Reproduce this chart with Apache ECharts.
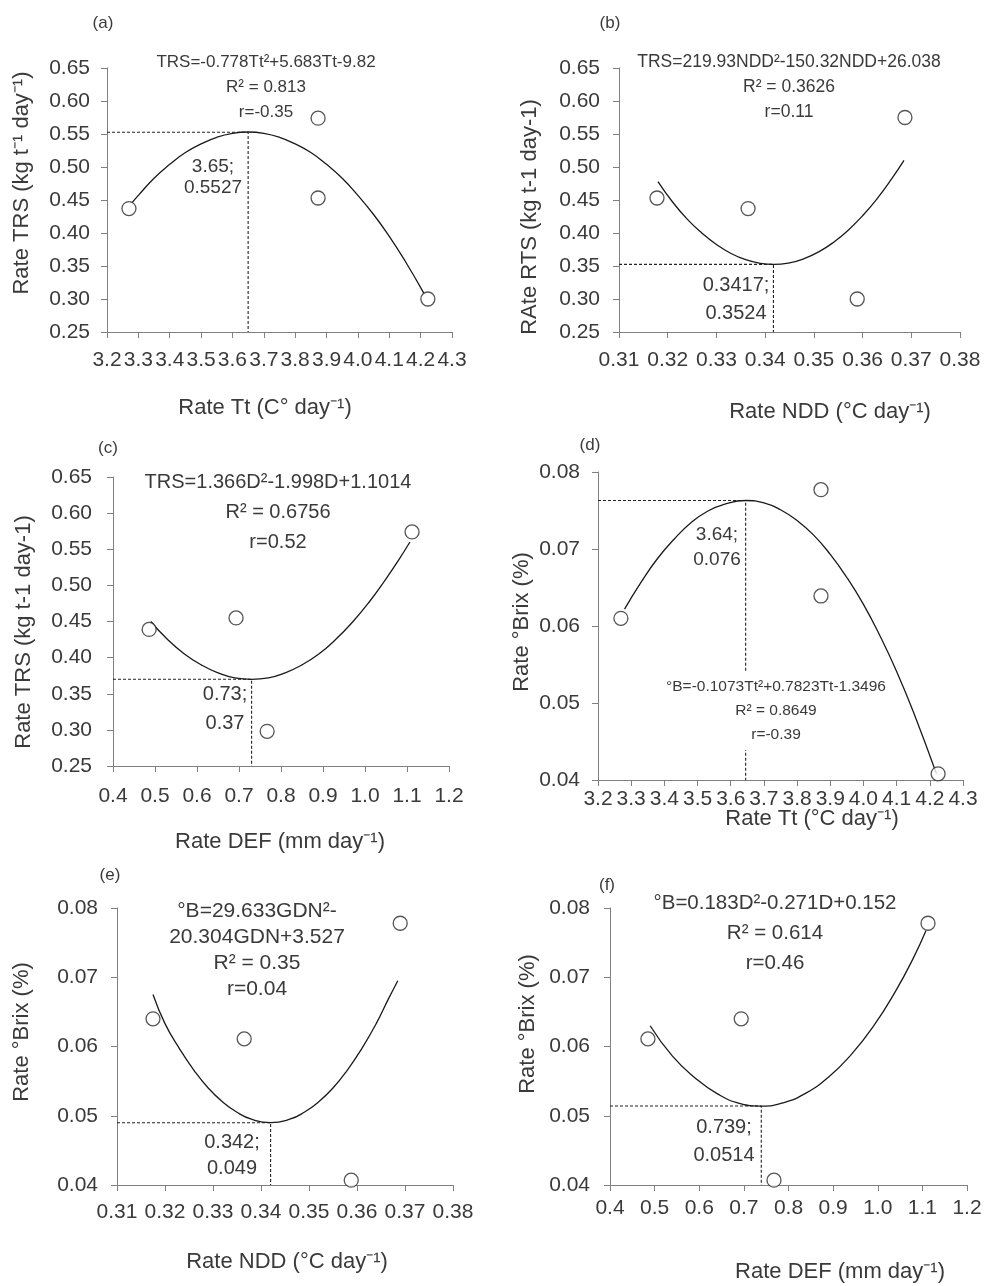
<!DOCTYPE html>
<html><head><meta charset="utf-8">
<script src="https://cdn.jsdelivr.net/npm/echarts@6/dist/echarts.min.js"></script>
<style>html,body{margin:0;padding:0;background:#fff}#c{width:984px;height:1286px}</style>
</head><body><div id="c"></div>
<script>
// ---------- observed points ----------
const ttA = [3.27, 3.873, 3.873, 4.223];
const trsA = [0.437, 0.574, 0.453, 0.300];
const nddB = [0.3178, 0.3365, 0.3589, 0.3687];
const rtsB = [0.453, 0.437, 0.300, 0.575];
const defC = [0.486, 0.693, 0.767, 1.112];
const trsC = [0.439, 0.455, 0.298, 0.574];
const ttD = [3.269, 3.872, 3.872, 4.225];
const brixD = [0.0610, 0.0777, 0.0639, 0.0408];
const nddE = [0.3175, 0.3365, 0.3588, 0.369];
const brixE = [0.0640, 0.0611, 0.0407, 0.0778];
const defF = [0.485, 0.694, 0.7675, 1.1126];
const brixF = [0.0611, 0.0640, 0.0407, 0.0778];

// ---------- fitted curves ----------
const fitAx = [3.28, 3.30, 3.35, 3.40, 3.45, 3.50, 3.55, 3.60, 3.65, 3.70, 3.75, 3.80, 3.85, 3.90, 3.95, 4.00, 4.05, 4.10, 4.15, 4.21];
const fitAy = [0.446, 0.457, 0.483, 0.504, 0.522, 0.535, 0.545, 0.551, 0.553, 0.551, 0.545, 0.535, 0.522, 0.504, 0.483, 0.457, 0.428, 0.395, 0.358, 0.309];
const fitBx = [0.318, 0.321, 0.324, 0.327, 0.330, 0.333, 0.336, 0.339, 0.3417, 0.345, 0.348, 0.351, 0.354, 0.357, 0.360, 0.363, 0.366, 0.3685];
const fitBy = [0.478, 0.447, 0.421, 0.400, 0.3825, 0.369, 0.3595, 0.354, 0.3524, 0.3548, 0.3611, 0.3714, 0.3857, 0.4039, 0.4261, 0.4522, 0.4823, 0.510];
const fitCx = [0.49, 0.53, 0.57, 0.61, 0.65, 0.69, 0.73, 0.77, 0.81, 0.85, 0.89, 0.93, 0.97, 1.01, 1.05, 1.08, 1.107];
const fitCy = [0.450, 0.425, 0.405, 0.390, 0.379, 0.372, 0.370, 0.372, 0.379, 0.390, 0.405, 0.425, 0.449, 0.477, 0.509, 0.535, 0.560];
const fitDx = [3.28, 3.33, 3.38, 3.43, 3.48, 3.53, 3.58, 3.645, 3.70, 3.75, 3.80, 3.85, 3.90, 3.95, 4.00, 4.05, 4.10, 4.15, 4.22];
const fitDy = [0.0622, 0.0657, 0.0688, 0.0713, 0.0734, 0.0749, 0.0758, 0.0763, 0.0760, 0.0751, 0.0737, 0.0718, 0.0693, 0.0663, 0.0628, 0.0587, 0.0541, 0.0489, 0.0408];
const fitEx = [0.3175, 0.320, 0.323, 0.326, 0.329, 0.332, 0.335, 0.338, 0.342, 0.346, 0.349, 0.352, 0.355, 0.358, 0.361, 0.364, 0.3665, 0.3685];
const fitEy = [0.0675, 0.0633, 0.0597, 0.0566, 0.0540, 0.0520, 0.0505, 0.0495, 0.0490, 0.0495, 0.0505, 0.0520, 0.0540, 0.0566, 0.0597, 0.0633, 0.0668, 0.0695];
const fitFx = [0.49, 0.54, 0.59, 0.64, 0.69, 0.739, 0.79, 0.84, 0.89, 0.94, 0.99, 1.04, 1.08, 1.108];
const fitFy = [0.0630, 0.0586, 0.0555, 0.0532, 0.0518, 0.0514, 0.0519, 0.0533, 0.0556, 0.0588, 0.0629, 0.0680, 0.0728, 0.0767];

// ---------- vertices (x; y) ----------
const vertexA = [3.65, 0.5527];
const vertexB = [0.3417, 0.3524];
const vertexC = [0.73, 0.37];
const vertexD = [3.645, 0.0763];
const vertexE = [0.342, 0.049];
const vertexF = [0.739, 0.0514];

// ---------- texts ----------
const panelLabels = ['(a)', '(b)', '(c)', '(d)', '(e)', '(f)'];
const equations = [
  'TRS=-0.778Tt²+5.683Tt-9.82\nR² = 0.813\nr=-0.35',
  'TRS=219.93NDD²-150.32NDD+26.038\nR² = 0.3626\nr=0.11',
  'TRS=1.366D²-1.998D+1.1014\nR² = 0.6756\nr=0.52',
  '°B=-0.1073Tt²+0.7823Tt-1.3496\nR² = 0.8649\nr=-0.39',
  '°B=29.633GDN²-\n20.304GDN+3.527\nR² = 0.35\nr=0.04',
  '°B=0.183D²-0.271D+0.152\nR² = 0.614\nr=0.46'
];
const vertexLabels = ['3.65;\n0.5527', '0.3417;\n0.3524', '0.73;\n0.37', '3.64;\n0.076', '0.342;\n0.049', '0.739;\n0.0514'];
const xTitles = ['Rate Tt (C° day⁻¹)', 'Rate NDD (°C day⁻¹)', 'Rate DEF (mm day⁻¹)', 'Rate Tt (°C day⁻¹)', 'Rate NDD (°C day⁻¹)', 'Rate DEF (mm day⁻¹)'];
const yTitles = ['Rate TRS (kg t⁻¹ day⁻¹)', 'RAte RTS (kg t-1 day-1)', 'Rate TRS (kg t-1 day-1)', 'Rate °Brix (%)', 'Rate °Brix (%)', 'Rate °Brix (%)'];

// ---------- axis ranges ----------
const xRanges = [[3.2, 4.3, 0.1, 1], [0.31, 0.38, 0.01, 2], [0.4, 1.2, 0.1, 1], [3.2, 4.3, 0.1, 1], [0.31, 0.38, 0.01, 2], [0.4, 1.2, 0.1, 1]];
const yRanges = [[0.25, 0.65, 0.05, 2], [0.25, 0.65, 0.05, 2], [0.25, 0.65, 0.05, 2], [0.04, 0.08, 0.01, 2], [0.04, 0.08, 0.01, 2], [0.04, 0.08, 0.01, 2]];

const pts = [[ttA, trsA], [nddB, rtsB], [defC, trsC], [ttD, brixD], [nddE, brixE], [defF, brixF]];
const fits = [[fitAx, fitAy], [fitBx, fitBy], [fitCx, fitCy], [fitDx, fitDy], [fitEx, fitEy], [fitFx, fitFy]];
const vertices = [vertexA, vertexB, vertexC, vertexD, vertexE, vertexF];

// ---------- layout ----------
const grids = [
  {left: 107, top: 68, width: 345, height: 264},
  {left: 619, top: 68, width: 341, height: 264},
  {left: 113, top: 477, width: 336, height: 289},
  {left: 598, top: 472, width: 365, height: 308},
  {left: 117, top: 908, width: 336, height: 277},
  {left: 610, top: 908, width: 357, height: 277}
];
const xLabelMargin = [18, 18, 20, 9, 17, 13];
const yLabelMargin = [17, 19, 21, 18, 19, 20];
const labelPos = [[103, 23], [610, 23], [108, 448], [590, 445], [110, 875], [607, 885]];
const eqPos = [[266, 87, 17, 25], [789, 87, 17.5, 25], [278, 512, 20, 30], [776, 711, 15.5, 24], [257, 950, 21, 26], [775, 933, 20.5, 30]];
const vlPos = [[213, 177, 19, 21], [736, 299, 20, 28], [225, 709, 20, 29], [717, 547, 19, 25], [232, 1155, 20, 26], [724, 1141, 20, 28]];
const xtPos = [[265, 408], [830, 412], [280, 842], [812, 819], [287, 1262], [840, 1272]];
const ytPos = [[22, 183], [530, 217], [24, 632], [522, 622], [22, 1032], [528, 1024]];

const FONT = '"Liberation Sans", Arial, sans-serif';
const TXT = '#3a3a3a';
const AX = '#808080';

const option = {
  animation: false,
  backgroundColor: '#fff',
  grid: grids.map(g => Object.assign({outerBoundsMode: 'none', containLabel: false}, g)),
  xAxis: xRanges.map((r, i) => ({
    type: 'value', gridIndex: i, min: r[0], max: r[1], interval: r[2],
    axisLine: {show: true, lineStyle: {color: AX, width: 1}},
    axisTick: {show: true, inside: false, length: 6, lineStyle: {color: AX}},
    splitLine: {show: false},
    axisLabel: {margin: xLabelMargin[i], fontSize: 21, fontFamily: FONT, color: TXT,
      showMinLabel: true, showMaxLabel: true, hideOverlap: false,
      formatter: v => v.toFixed(r[3])}
  })),
  yAxis: yRanges.map((r, i) => ({
    type: 'value', gridIndex: i, min: r[0], max: r[1], interval: r[2],
    axisLine: {show: true, lineStyle: {color: AX, width: 1}},
    axisTick: {show: true, inside: false, length: 6, lineStyle: {color: AX}},
    splitLine: {show: false},
    axisLabel: {margin: yLabelMargin[i], fontSize: 21, fontFamily: FONT, color: TXT,
      showMinLabel: true, showMaxLabel: true, hideOverlap: false,
      formatter: v => v.toFixed(r[3])}
  })),
  series: [],
  graphic: []
};

for (let i = 0; i < 6; i++) {
  const [fx, fy] = fits[i];
  option.series.push({
    type: 'line', xAxisIndex: i, yAxisIndex: i, smooth: true, symbol: 'none',
    lineStyle: {color: '#1a1a1a', width: 1.3}, z: 3,
    data: fx.map((x, k) => [x, fy[k]])
  });
  const v = vertices[i];
  option.series.push({
    type: 'line', xAxisIndex: i, yAxisIndex: i, symbol: 'none',
    lineStyle: {color: '#222', width: 1.1, type: [3, 2]}, z: 2,
    data: [[xRanges[i][0], v[1]], [v[0], v[1]], [v[0], yRanges[i][0]]]
  });
  const [px, py] = pts[i];
  option.series.push({
    type: 'scatter', xAxisIndex: i, yAxisIndex: i, symbol: 'circle', symbolSize: 14,
    itemStyle: {color: '#fff', borderColor: '#2a2a2a', borderWidth: 1.3}, z: 4,
    data: px.map((x, k) => [x, py[k]])
  });

  const t = (x, y, text, size, lh, extra) => Object.assign({
    type: 'text', x: x, y: y, z: 100,
    style: Object.assign({text: text, fontFamily: FONT, fontSize: size, lineHeight: lh || size * 1.2,
      fill: TXT, align: 'center', verticalAlign: 'middle'}, extra || {})
  });
  option.graphic.push(t(labelPos[i][0], labelPos[i][1], panelLabels[i], 17));
  const e = eqPos[i];
  option.graphic.push(t(e[0], e[1], equations[i], e[2], e[3], i === 3 ? {backgroundColor: '#fff', padding: [3, 4]} : null));
  const vl = vlPos[i];
  option.graphic.push(t(vl[0], vl[1], vertexLabels[i], vl[2], vl[3]));
  option.graphic.push(t(xtPos[i][0], xtPos[i][1], xTitles[i], 22));
  const yt = t(ytPos[i][0], ytPos[i][1], yTitles[i], 22);
  yt.rotation = Math.PI / 2;
  option.graphic.push(yt);
}

const chart = echarts.init(document.getElementById('c'), null, {renderer: 'canvas'});
chart.setOption(option);
</script></body></html>
